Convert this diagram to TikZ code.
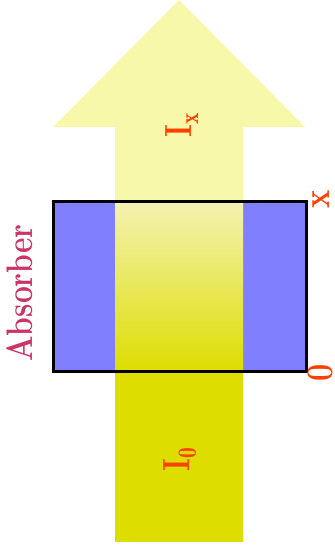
\documentclass[tikz,border=0pt]{standalone}
\usepackage{fontspec}
\usepackage{graphicx}
\definecolor{beamlo}{RGB}{221,221,0}
\definecolor{beamhi}{RGB}{248,248,170}
\definecolor{beamtop}{RGB}{244,242,178}
\definecolor{absblue}{RGB}{128,128,255}
\definecolor{lblred}{RGB}{255,64,0}
\definecolor{abspink}{RGB}{204,51,102}
\newcommand{\tall}[1]{\scalebox{1}[1.23]{#1}}
\tikzset{lbl/.style={rotate=90, text=lblred, inner sep=0pt,
    font=\fontsize{23}{27}\selectfont\bfseries}}

\begin{document}
\begin{tikzpicture}[x=0.75pt,y=0.75pt]
	\useasboundingbox (0,0) rectangle (335,549);
	% beam
	\fill[beamhi] (115,7) -- (115,422) -- (53,422) -- (179,549)
		-- (305,422) -- (243,422) -- (243,7) -- cycle;
	\fill[beamlo] (115,7) rectangle (243,177);
	% absorber
	\fill[absblue] (53,177) rectangle (306,347);
	\shade[top color=beamtop, bottom color=beamlo] (115,177) rectangle (243,347);
	\draw[line width=2.25pt] (53,177) rectangle (306,347);
	% labels
	\node[lbl, text=abspink, font=\fontsize{22.5}{27}\selectfont\bfseries]
		(absorber) at (20,256) {\tall{Absorber}};
	\node[lbl] (ix) at (182,424) {\tall{I$_{\mathbf{x}}$}};
	\node[lbl] (izero) at (180,90) {\tall{I$_{\mathbf{0}}$}};
	\node[lbl] (xtop) at (321,350) {\tall{x}};
	\node[lbl] (xzero) at (320,176) {\tall{0}};
\end{tikzpicture}
\end{document}
